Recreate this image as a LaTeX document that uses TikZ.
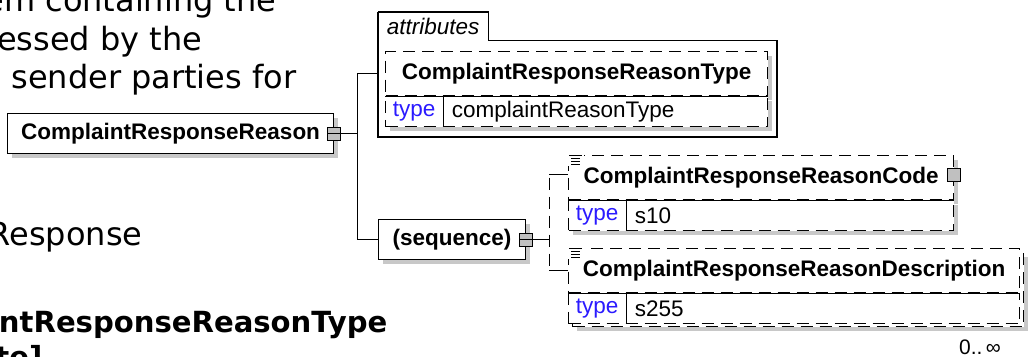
\documentclass[tikz,border=0pt]{standalone}
\usepackage{fontspec}
\setmainfont{Liberation Sans}
\newfontfamily\pagefont{DejaVu Sans}
\usepackage{xcolor}
\usepackage{tikz}
\usetikzlibrary{positioning,calc,shadows}
\definecolor{xsBlue}{HTML}{2A1AFF}
\definecolor{xsShade}{HTML}{C8C8C8}
\definecolor{xsKnob}{HTML}{C0C0C0}

\begin{document}
\begin{tikzpicture}[x=1pt, y=-1pt, line width=1.2pt,
  font=\fontsize{22.5}{26}\selectfont,
  pagetext/.style={font=\pagefont\fontsize{32}{38}\selectfont, inner sep=0pt, anchor=base east},
  pagehead/.style={pagetext, font=\pagefont\bfseries\fontsize{29.1}{36}\selectfont},
  shade/.style={drop shadow={shadow xshift=4pt, shadow yshift=-4pt, fill=xsShade, opacity=1}},
  elem/.style={draw, fill=white, minimum height=40pt, inner sep=0pt, anchor=north west,
    font=\fontsize{22.5}{26}\selectfont\bfseries, shade},
  knob/.style={draw, fill=xsKnob, minimum size=13pt, inner sep=0pt, line width=0.9pt},
  knobopen/.style={knob, path picture={\draw[line width=0.9pt]
    (path picture bounding box.west) -- (path picture bounding box.east);}},
  optname/.style={draw, dash pattern=on 12pt off 7pt, fill=white, minimum height=44pt,
    inner sep=0pt, anchor=north west, font=\fontsize{22.5}{26}\selectfont\bfseries},
  opttype/.style={optname, minimum height=30pt, font=\fontsize{22.5}{26}\selectfont},
  typekey/.style={minimum width=57pt, minimum height=30pt, inner sep=0pt, anchor=west, text=xsBlue},
  typeval/.style={inner xsep=8pt, inner ysep=0pt, anchor=west}]
\useasboundingbox (0,0) rectangle (1030,356);
% page text behind the diagram
\node[pagetext] (txt1) at (277,12) {em containing the};
\node[pagetext] (txt2) at (203,50) {essed by the};
\node[pagetext] (txt3) at (297,88) {sender parties for};
\node[pagetext] (txt4) at (143,245) {Response};
\node[pagehead] (txt5) at (388,332) {ntResponseReasonType};
\node[pagehead] (txt6) at (43,367) {te]};
% root element
\node[elem, minimum width=326pt] (root) at (7,113) {ComplaintResponseReason};
\node[knobopen] (rootknob) at (root.east) {};
% attribute group
\node[inner sep=0pt, minimum width=109pt, minimum height=27pt, anchor=north west,
  font=\fontsize{22.5}{26}\selectfont\itshape] (attrtab) at (378,12) {attributes};
\coordinate (attrcorner) at (777,137);
\draw (attrtab.north west) -| (attrtab.south east) -| (attrcorner) -| (attrtab.north west);
\node[optname, minimum width=382pt, shade] (attrname) at (385,51) {ComplaintResponseReasonType};
\node[opttype, minimum width=382pt, shade] (attrtype) at (attrname.south west) {};
\draw (attrname.south west) -- (attrname.south east);
\node[typekey] (attrkey) at (attrtype.west) {type};
\node[typeval] (attrval) at (attrkey.east) {complaintReasonType};
\draw (attrkey.north east) -- (attrkey.south east);
% sequence
\node[elem, minimum width=147pt] (seq) at (378,219) {(sequence)};
\node[knobopen] (seqknob) at (seq.east) {};
% first child
\node[optname, minimum width=385pt, shade] (el1name) at (568,155) {ComplaintResponseReasonCode};
\node[opttype, minimum width=385pt, shade] (el1type) at (el1name.south west) {};
\draw (el1name.south west) -- (el1name.south east);
\node[typekey] (el1key) at (el1type.west) {type};
\node[typeval] (el1val) at (el1key.east) {s10};
\draw (el1key.north east) -- (el1key.south east);
\node[knob] (el1knob) at ([yshift=3pt]el1name.east) {};
% second child, repeated
\node[optname, minimum width=451pt, minimum height=74pt, shade] (el2back) at (572,252) {};
\node[optname, minimum width=451pt] (el2name) at (568,248) {ComplaintResponseReasonDescription};
\node[opttype, minimum width=451pt] (el2type) at (el2name.south west) {};
\draw (el2name.south west) -- (el2name.south east);
\node[typekey] (el2key) at (el2type.west) {type};
\node[typeval] (el2val) at (el2key.east) {s255};
\draw (el2key.north east) -- (el2key.south east);
\node[font=\fontsize{21}{24}\selectfont, inner sep=0pt] (el2occurs) at (980,347) {0..\,∞};
% doc marks
\foreach \e in {el1name,el2name} {
  \fill[white] ($(\e.north west)+(-1,-1)$) rectangle ++(17,12);
  \draw[line width=0.8pt] ($(\e.north west)+(1,0)$) -- ++(13,0);
  \foreach \k in {3,6,9}
    \draw[line width=0.8pt] ($(\e.north west)+(3,\k)$) -- ++(9,0);
}
% connectors
\draw (rootknob.east) -- ++(16,0) coordinate (split);
\draw (split |- attrname.west) -- (attrtab.west |- attrname.west);
\draw (split |- attrname.west) |- (seq.west);
\draw (seqknob.east) -- ++(16,0) coordinate (fork);
\draw[dash pattern=on 12pt off 7pt] (fork |- el1name.west) -- (fork |- el2name.west);
\draw (fork |- el1knob) -- (el1name.west |- el1knob);
\draw (fork |- el2name.west) -- (el2name.west);
\end{tikzpicture}
\end{document}
